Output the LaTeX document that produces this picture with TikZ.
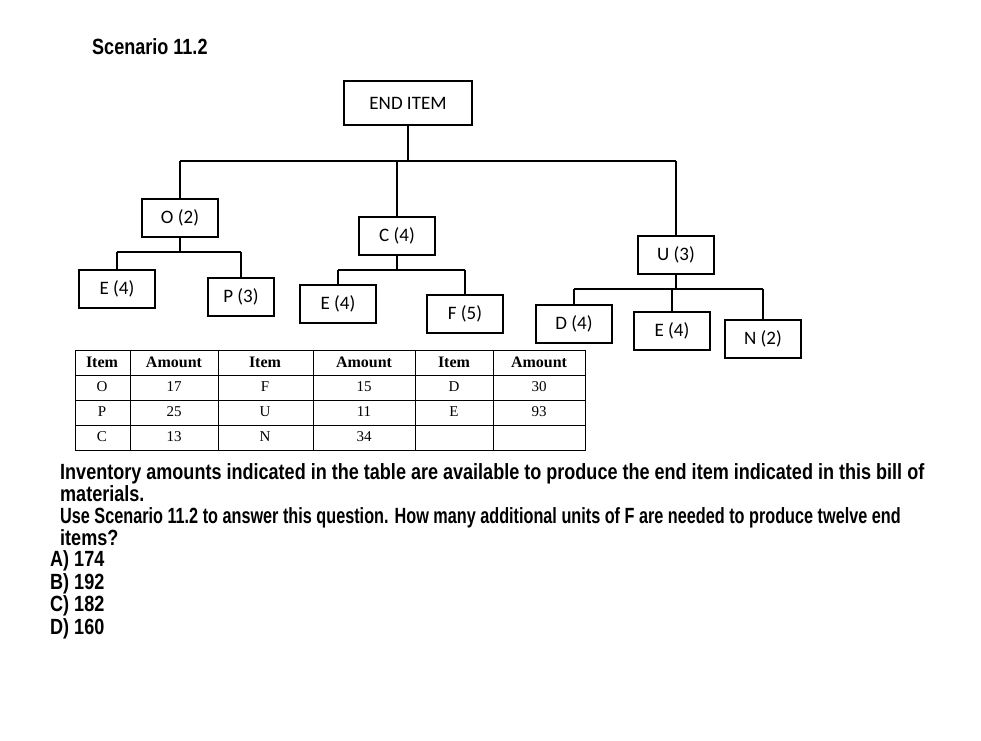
\documentclass[tikz,border=0pt]{standalone}
\usepackage{fontspec}
\setmainfont{Liberation Serif}
\newfontfamily\boxfont{Carlito}
\newfontfamily\qfont[FakeStretch=0.82]{Liberation Sans Bold}
\usetikzlibrary{positioning}

\begin{document}
\begin{tikzpicture}[x=1pt,y=-1pt,
    itembox/.style={rectangle, draw, line width=2pt, minimum height=38pt, inner sep=4pt, font=\boxfont\fontsize{19}{22}\selectfont, anchor=center},
    qline/.style={anchor=west, font=\qfont\fontsize{22}{26}\selectfont, inner sep=0pt},
    cell/.style={font=\fontsize{15}{17}\selectfont, inner sep=0pt},
    hcell/.style={font=\bfseries\fontsize{16}{18}\selectfont, inner sep=0pt},
  ]
  \useasboundingbox (0,0) rectangle (981,740);
  %Nodes
  \node[qline] (title) at (92,47) {Scenario 11.2};
  \node[itembox, minimum width=128pt, minimum height=44pt] (end) at (408,103) {END ITEM};
  \node[itembox, minimum width=76pt] (o) at (180,218) {O (2)};
  \node[itembox, minimum width=76pt] (c) at (397,236) {C (4)};
  \node[itembox, minimum width=76pt] (u) at (676,255) {U (3)};
  \node[itembox, minimum width=76pt] (e1) at (117,289) {E (4)};
  \node[itembox, minimum width=66pt] (p) at (241,297) {P (3)};
  \node[itembox, minimum width=76pt] (e2) at (338,304) {E (4)};
  \node[itembox, minimum width=76pt] (f) at (465,314) {F (5)};
  \node[itembox, minimum width=76pt] (d) at (574,324) {D (4)};
  \node[itembox, minimum width=76pt] (e3) at (672,331) {E (4)};
  \node[itembox, minimum width=76pt] (n) at (763,339) {N (2)};

  %Lines
  \draw[very thick] (end.south) -- ++(0,35) coordinate (bus);
  \draw[very thick] (o.north |- bus) -- (u.north |- bus);
  \draw[very thick] (o.north |- bus) -- (o.north);
  \draw[very thick] (c.north |- bus) -- (c.north);
  \draw[very thick] (u.north |- bus) -- (u.north);
  \foreach \up/\a/\b in {o/e1/p, c/e2/f} {
    \draw[very thick] (\up.south) -- ++(0,14) coordinate (sub);
    \draw[very thick] (\a.north |- sub) -- (\b.north |- sub);
    \draw[very thick] (\a.north |- sub) -- (\a.north);
    \draw[very thick] (\b.north |- sub) -- (\b.north);
  }
  \draw[very thick] (u.south) -- ++(0,14) coordinate (subu);
  \draw[very thick] (d.north |- subu) -- (n.north |- subu);
  \draw[very thick] (d.north |- subu) -- (d.north);
  \draw[very thick] (e3.north |- subu) -- (e3.north);
  \draw[very thick] (n.north |- subu) -- (n.north);

  %Table
  \draw[thick] (75,350) rectangle (585,450);
  \foreach \x in {130,218,313,415,493} \draw[thick] (\x,350) -- (\x,450);
  \foreach \y in {375,400,425} \draw[thick] (75,\y) -- (585,\y);
  \foreach \x/\t in {102/Item,174/Amount,265/Item,364/Amount,454/Item,539/Amount}
    \node[hcell] (h\x) at (\x,362) {\t};
  \foreach \x/\y/\t in {102/387/O,102/412/P,102/437/C,
                        174/387/17,174/412/25,174/437/13,
                        265/387/F,265/412/U,265/437/N,
                        364/387/15,364/412/11,364/437/34,
                        454/387/D,454/412/E,
                        539/387/30,539/412/93}
    \node[cell] (c\x\y) at (\x,\y) {\t};

  %Question
  \node[qline] (q1) at (60,474) {Inventory amounts indicated in the table are available to produce the end item indicated in this bill of};
  \node[qline] (q2) at (60,494) {materials.};
  \node[qline, xscale=0.9] (q3) at (60,518) {Use Scenario 11.2 to answer this question. How many additional units of F are needed to produce twelve end};
  \node[qline] (q4) at (60,538) {items?};
  \node[qline] (qa) at (50,561) {A) 174};
  \node[qline] (qb) at (50,584) {B) 192};
  \node[qline] (qc) at (50,606) {C) 182};
  \node[qline] (qd) at (50,629) {D) 160};
\end{tikzpicture}
\end{document}
